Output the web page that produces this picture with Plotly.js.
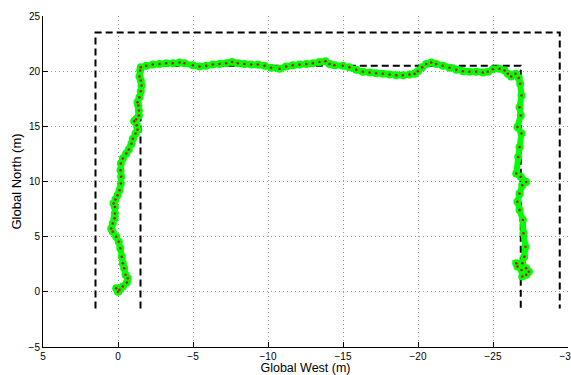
<!DOCTYPE html>
<html>
<head>
<meta charset="utf-8">
<script src="https://cdn.plot.ly/plotly-3.0.1.min.js"></script>
<style>html,body{margin:0;padding:0;background:#fff;}#chart{width:571px;height:375px;}</style>
</head>
<body>
<div id="chart"></div>
<script>
// Corridor boundaries (Global West, Global North)
const outerX = [1.5, 1.5, -29.45, -29.45];
const outerY = [-1.5, 23.5, 23.5, -1.5];
const innerX = [-1.5, -1.5, -26.85, -26.85];
const innerY = [-1.5, 20.5, 20.5, -1.5];

// Estimated trajectory
const trajWest = [
  0.0, 0.12, -0.1, -0.32, -0.59, -0.65, -0.5, -0.41, -0.32, -0.25, -0.15, -0.05, 0.12, 0.35, 0.45, 0.35,
  0.23, 0.21, 0.21, 0.3, 0.17, 0.03, -0.1, -0.19, -0.21, -0.17, -0.19, -0.32, -0.55, -0.72, -0.9, -0.99,
  -1.17, -1.3, -1.25, -1.08, -1.21, -1.39, -1.39, -1.35, -1.3, -1.43, -1.52, -1.57, -1.52, -1.43, -1.48, -1.52,
  -1.88, -2.32, -2.77, -3.21, -3.65, -4.1, -4.43, -4.99, -5.43, -5.88, -6.32, -6.77, -7.21, -7.61, -7.99, -8.43,
  -8.88, -9.32, -9.77, -10.21, -10.77, -11.21, -11.65, -12.1, -12.55, -12.99, -13.43, -13.83, -14.1, -14.43, -14.99, -15.43,
  -15.88, -16.32, -16.77, -17.21, -17.65, -18.1, -18.55, -18.99, -19.43, -19.77, -19.99, -20.28, -20.55, -20.88, -21.21, -21.65,
  -22.1, -22.55, -22.99, -23.43, -23.88, -24.32, -24.65, -24.99, -25.43, -25.77, -25.99, -26.21, -26.5, -26.72,
  -26.81, -26.9, -26.77, -26.85, -26.63, -26.9, -26.77, -26.68, -26.55, -26.85, -27.21, -26.95, -26.77, -26.63, -26.77, -26.99,
  -27.03, -27.17, -27.08, -26.95, -26.55, -26.63, -26.9, -27.21, -27.39, -27.21, -26.95
];
const trajNorth = [
  0.0, 0.33, 0.18, 0.48, 0.84, 1.24, 1.54, 2.14, 2.59, 3.19, 3.95, 4.54, 5.0, 5.45, 5.75, 6.2,
  6.66, 7.11, 7.7, 8.0, 8.37, 8.76, 9.21, 9.82, 10.42, 11.02, 11.63, 12.08, 12.53, 12.89, 13.43, 13.88,
  14.34, 14.7, 15.09, 15.47, 15.65, 15.99, 16.44, 16.89, 17.19, 17.64, 18.18, 18.7, 19.15, 19.51, 20.05, 20.35,
  20.48, 20.6, 20.66, 20.71, 20.71, 20.78, 20.71, 20.53, 20.42, 20.48, 20.6, 20.66, 20.71, 20.84, 20.71, 20.66,
  20.6, 20.6, 20.48, 20.3, 20.23, 20.42, 20.53, 20.6, 20.66, 20.71, 20.84, 20.89, 20.66, 20.53, 20.48, 20.35,
  20.12, 19.94, 19.87, 19.81, 19.76, 19.69, 19.63, 19.63, 19.69, 19.76, 19.99, 20.35, 20.66, 20.78, 20.66, 20.48,
  20.3, 20.12, 19.99, 19.94, 19.94, 19.87, 19.94, 20.17, 20.23, 20.05, 19.76, 19.51, 19.76, 19.39,
  18.85, 17.8, 16.74, 15.99, 14.93, 14.34, 13.13, 12.22, 10.72, 10.42, 9.96, 9.67, 8.92, 8.16, 7.41, 6.5,
  5.3, 4.09, 3.19, 2.59, 2.59, 2.29, 1.99, 2.14, 1.83, 1.54, 1.38
];

const xTicks = [5, 0, -5, -10, -15, -20, -25, -30];
const yTicks = [-5, 0, 5, 10, 15, 20, 25];
const fmt = v => (v < 0 ? '\u2212' + Math.abs(v) : String(v));

const dashLine = {color: '#000', width: 2, dash: '7px,4px'};
const traces = [
  {x: outerX, y: outerY, mode: 'lines', line: dashLine, hoverinfo: 'skip', showlegend: false},
  {x: innerX, y: innerY, mode: 'lines', line: dashLine, hoverinfo: 'skip', showlegend: false},
  {x: trajWest, y: trajNorth, mode: 'lines+markers', line: {color: '#00ff00', width: 6},
   marker: {color: '#00ff00', size: 8, symbol: 'circle'}, showlegend: false},
  {x: trajWest, y: trajNorth, mode: 'markers', marker: {color: '#e00000', size: 2.5}, showlegend: false}
];

const fontFam = 'Liberation Sans, Arial, sans-serif';
const axisCommon = {
  showline: true, linecolor: '#000', linewidth: 1, mirror: false,
  ticks: 'inside', ticklen: 5, tickcolor: '#000', tickwidth: 1,
  showgrid: true, gridcolor: '#9a9a9a', griddash: '1px,3px', gridwidth: 1,
  zeroline: false, tickfont: {family: fontFam, size: 10, color: '#000'},
  tickmode: 'array', ticklabeloverflow: 'allow'
};

const layout = {
  width: 571, height: 375,
  margin: {l: 43, r: 2.5, t: 15.5, b: 27.5},
  paper_bgcolor: '#fff', plot_bgcolor: '#fff',
  xaxis: Object.assign({}, axisCommon, {
    range: [5, -30], tickvals: xTicks, ticktext: xTicks.map(fmt),
    title: {text: 'Global West (m)', font: {family: fontFam, size: 12.5, color: '#000'}, standoff: 4}
  }),
  yaxis: Object.assign({}, axisCommon, {
    range: [-5, 25], tickvals: yTicks, ticktext: yTicks.map(fmt),
    title: {text: 'Global North (m)', font: {family: fontFam, size: 13, color: '#000'}, standoff: 4}
  }),
  showlegend: false
};

Plotly.newPlot('chart', traces, layout, {displayModeBar: false, staticPlot: true});
</script>
</body>
</html>
